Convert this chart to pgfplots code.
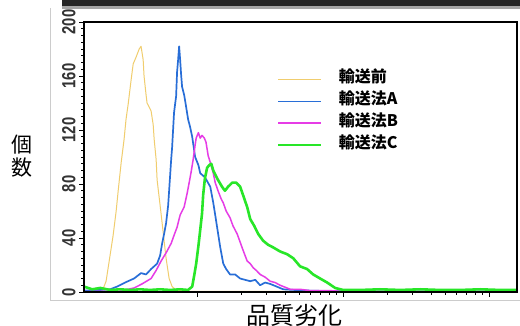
\documentclass[border=0pt]{standalone}
\usepackage{graphicx}
\usepackage{pgfplots}
\pgfplotsset{compat=1.18}
\usepackage{fontspec}
\setmainfont{Liberation Sans}
\newfontfamily\cjk{Noto Sans CJK JP}
\definecolor{cyel}{RGB}{240,205,110}
\definecolor{cblu}{RGB}{40,110,215}
\definecolor{cmag}{RGB}{230,60,230}
\definecolor{cgrn}{RGB}{40,230,40}
\begin{document}
\begin{tikzpicture}[x=1pt,y=1pt]
\useasboundingbox (0,0) rectangle (520,326);
\fill[white] (0,0) rectangle (520,326);
\draw[black!20, line width=0.8pt] (50,26) -- (50,318);
\draw[black!20, line width=0.8pt] (50,26) -- (520,26);
\fill[black!35] (62,317) rectangle (520,320);
\fill[black!85] (62,320) rectangle (520,326);
\begin{axis}[
  name=ax,
  at={(84pt,34pt)}, anchor=south west,
  scale only axis, width=433pt, height=270pt,
  xmode=log, xmin=1.68, xmax=1550, ymin=0, ymax=200,
  xtick={10,100,1000}, xticklabels={},
  ytick={0,40,...,200}, minor y tick num=7,
  tick align=outside, xtick pos=bottom, ytick pos=left,
  major tick length=5pt, minor tick length=3pt,
  tick style={black, line width=0.9pt},
  axis line style={black, line width=1.5pt},
  /pgf/number format/assume math mode=true,
  yticklabel={\scalebox{0.78}[1]{\pgfmathprintnumber{\tick}}},
  yticklabel style={rotate=90, anchor=south, font=\bfseries\fontsize{19}{19}\selectfont, text=black!80},
  xlabel={品質劣化},
  every axis x label/.style={at={(axis description cs:0.486,-0.085)}, anchor=center, font=\cjk\fontsize{24}{24}\selectfont},
  ylabel={個\\数},
  every axis y label/.style={at={(axis description cs:-0.143,0.504)}, anchor=center, align=center, font=\cjk\fontsize{21}{23}\selectfont},
  legend style={at={(axis description cs:0.4457,0.827)}, anchor=north west, draw=none, fill=none,
    inner sep=0pt, column sep=16pt, row sep=0pt,
    font=\cjk\bfseries\fontsize{16}{16}\selectfont,
    nodes={inner sep=0pt, text height=14pt, text depth=7.7pt}},
  legend cell align=left,
  legend image code/.code={\draw[#1] (-3pt,0pt) -- (40pt,0pt);},
]
\addplot[cyel, line width=1pt, line join=round] coordinates {
(1.68,0.5) (2.0,0.5) (2.24,0.7) (2.38,8) (2.50,23) (2.66,42) (2.79,60) (2.88,75) (3.02,96) (3.16,113) (3.26,128) (3.37,139) (3.53,157) (3.65,169) (3.82,174) (4.01,180) (4.13,182) (4.27,172) (4.33,160) (4.47,146) (4.54,140) (4.69,137) (4.84,134) (5.00,124) (5.08,113) (5.24,98) (5.32,83) (5.58,64) (5.76,51) (5.94,38) (6.13,25) (6.43,10) (6.74,4) (7.18,1.5) (8.27,0.5) (20,0.5) (50,0.5) (95,0.5) (1550,0.3)
};
\addlegendentry{輸送前}
\addplot[cblu, line width=1.7pt, line join=round] coordinates {
(1.68,1) (2.17,1.5) (2.54,2) (2.83,4) (3.21,7) (3.70,10) (4.13,14) (4.47,13) (4.84,17) (5.32,21) (5.58,27) (5.76,36) (5.94,43) (6.13,51) (6.33,64) (6.43,75) (6.64,98) (6.74,107) (6.95,133) (7.18,145) (7.29,163) (7.41,172) (7.53,182) (7.65,172) (7.77,161) (7.89,152) (8.15,146) (8.41,137) (8.67,128) (8.96,122) (9.25,115) (9.69,100) (10.2,94) (10.5,88) (11.3,85) (12.3,78) (12.9,66) (13.3,57) (13.7,48) (14.4,33) (15.1,21) (15.8,17) (16.8,13) (18.2,13) (19.7,10) (21.3,9) (23.1,8) (25.0,9) (27.0,5) (29.2,7) (31.6,6) (34.2,4.5) (38.8,2) (46.9,1.5) (59.4,1) (95,0.5) (1550,0.3)
};
\addlegendentry{輸送法A}
\addplot[cmag, line width=1.5pt, line join=round] coordinates {
(1.68,0.3) (2.97,0.7) (3.70,3) (4.20,6) (4.84,10) (5.24,16) (5.67,23) (6.13,29) (6.64,36) (6.95,42) (7.29,48) (7.65,57) (8.15,63) (8.54,73) (8.82,81) (9.10,89) (9.39,98) (9.69,109) (9.85,114) (10.2,118) (10.5,114) (10.8,116) (11.2,114) (11.5,111) (11.9,101) (12.3,96) (12.9,88) (13.3,81) (13.9,75) (14.6,69) (15.1,66) (15.8,60) (16.8,55) (17.6,49) (18.8,43) (19.7,37) (20.3,33) (21.3,27) (22.0,23) (23.1,21) (24.2,18) (25.4,16) (27.0,13) (29.2,11) (31.6,8) (34.2,7) (37.0,5) (43.4,2) (50.7,2) (59.4,1) (81.5,1) (103,0.3) (1550,0.3)
};
\addlegendentry{輸送法B}
\addplot[cgrn, line width=2.6pt, line join=round] coordinates {
(1.68,4) (1.91,2) (2.17,3) (2.54,1.5) (2.97,2) (3.48,1.5) (4.07,2) (4.77,1.5) (5.58,2) (6.53,1.5) (7.65,2) (8.67,1.5) (9.25,4) (9.54,12) (9.85,21) (10.2,34) (10.5,46) (10.8,58) (11.0,72) (11.3,84) (11.7,92) (12.1,94) (12.5,95) (12.9,90) (13.3,87) (13.9,83) (14.8,78) (15.5,75) (16.3,78) (17.4,81) (18.5,81) (19.7,78) (20.6,72) (22.0,63) (23.1,54) (24.6,49) (26.2,43) (28.3,38) (30.6,35) (33.2,33) (37.0,30) (41.3,28) (45.5,25) (50.7,19) (56.6,17) (62.3,13) (69.5,10) (77.7,7) (88.1,3) (100,1.5) (131,1.5) (179,2) (246,1.5) (337,2) (462,1.5) (633,1.5) (868,2) (1190,1.5) (1550,1.5)
};
\addlegendentry{輸送法C}
\end{axis}
\draw[black, line width=2pt] (84,34) rectangle (517,304);
\end{tikzpicture}
\end{document}
